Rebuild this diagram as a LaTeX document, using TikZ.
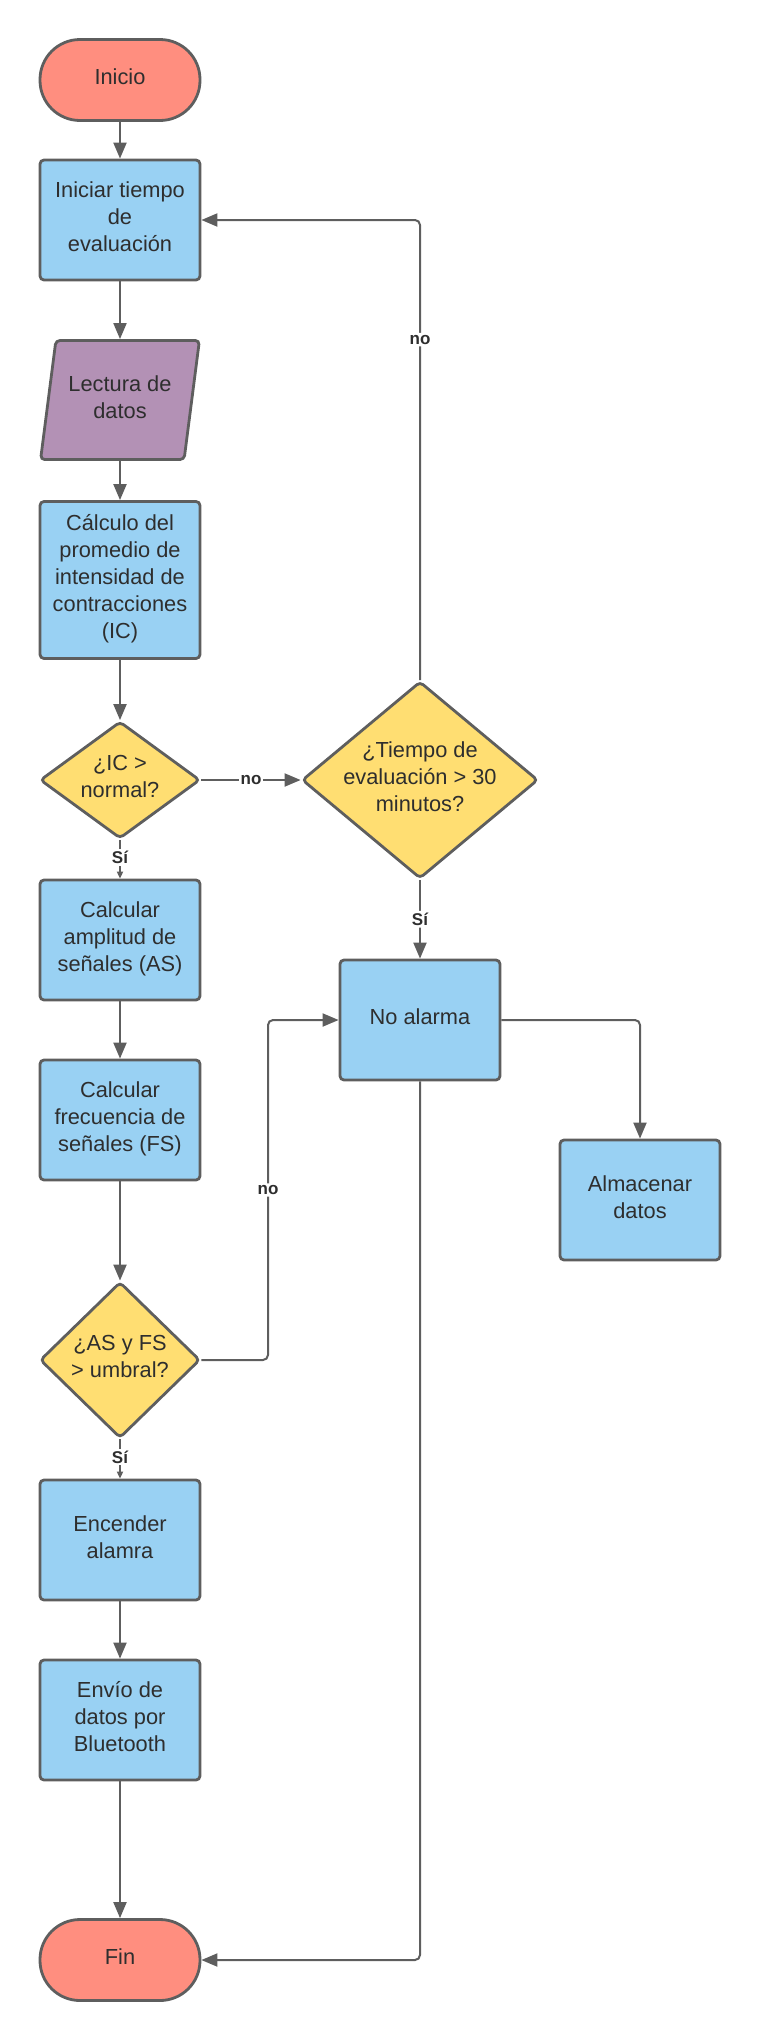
\documentclass[tikz,border=0pt]{standalone}
\usepackage{fontspec}
\setmainfont{Liberation Sans}
\usetikzlibrary{arrows.meta,shapes.geometric}
\definecolor{edge}{HTML}{5E5E5E}
\definecolor{ink}{HTML}{2E2E2E}
\definecolor{salmon}{HTML}{FF8E7F}
\definecolor{skyblue}{HTML}{99D1F3}
\definecolor{sun}{HTML}{FFDE72}
\definecolor{mauve}{HTML}{B391B5}
\begin{document}
\begin{tikzpicture}[x=1pt,y=-1pt,
  base/.style={draw=edge, line width=2.8pt, text=ink, align=center, inner sep=0pt,
    font=\fontsize{21.8}{27}\selectfont,
    % a fixed depth under the last line lifts the text block slightly
    execute at end node={\vrule width 0pt height 0pt depth 6.5pt}},
  terminal/.style={base, fill=salmon, rectangle, rounded corners=40pt,
    minimum width=160pt, minimum height=81pt},
  process/.style={base, fill=skyblue, rectangle, rounded corners=4pt,
    minimum width=160pt, minimum height=120pt},
  inout/.style={base, fill=mauve, trapezium, trapezium left angle=76,
    trapezium right angle=104, trapezium stretches=true, rounded corners=4pt,
    minimum width=159pt, minimum height=119pt},
  decision/.style={base, fill=sun, diamond, rounded corners=4pt, inner sep=-14pt},
  conn/.style={draw=edge, line width=2pt, rounded corners=5pt,
    -{Triangle[length=16pt,width=13pt]}},
  shortconn/.style={draw=edge, line width=2pt, -{Triangle[length=7pt,width=6pt]}},
  lbl/.style={fill=white, text=ink, inner xsep=1.5pt, inner ysep=2pt,
    font=\bfseries\fontsize{17}{20}\selectfont}
]
\useasboundingbox (0,0) rectangle (760,2040);

% main column
\node[terminal] (inicio) at (120,80) {Inicio};
\node[process] (iniciar) at (120,220) {Iniciar tiempo\\de\\evaluación};
\node[inout] (lectura) at (120,400) {Lectura de\\datos};
\node[process, minimum height=157pt] (calculo) at (120,580)
  {Cálculo del\\promedio de\\intensidad de\\contracciones\\(IC)};
\node[decision, minimum width=160pt, minimum height=117pt] (ic) at (120,780)
  {¿IC >\\normal?};
\node[process] (amplitud) at (120,940) {Calcular\\amplitud de\\señales (AS)};
\node[process] (frecuencia) at (120,1120) {Calcular\\frecuencia de\\señales (FS)};
\node[decision, minimum width=160pt, minimum height=156pt] (umbral) at (120,1360)
  {¿AS y FS\\> umbral?};
\node[process] (encender) at (120,1540) {Encender\\alamra};
\node[process] (envio) at (120,1720) {Envío de\\datos por\\Bluetooth};
\node[terminal] (fin) at (120,1960) {Fin};

% right-hand branch
\node[decision, minimum width=236pt, minimum height=197pt] (tiempo) at (420,780)
  {¿Tiempo de\\evaluación > 30\\minutos?};
\node[process] (noalarma) at (420,1020) {No alarma};
\node[process] (almacenar) at (640,1200) {Almacenar\\datos};

\coordinate (bypass) at (268,0);

% straight flow
\draw[conn] (inicio) -- (iniciar);
\draw[conn] (iniciar) -- (lectura);
\draw[conn] (lectura.south -| calculo.north) -- (calculo);
\draw[conn] (calculo) -- (ic);
\draw[shortconn] (ic) -- node[lbl, pos=0.45] {Sí} (amplitud);
\draw[conn] (amplitud) -- (frecuencia);
\draw[conn] (frecuencia) -- (umbral);
\draw[shortconn] (umbral) -- node[lbl, pos=0.45] {Sí} (encender);
\draw[conn] (encender) -- (envio);
\draw[conn] (envio) -- (fin);

% branches
\draw[conn] (ic) -- node[lbl] {no} (tiempo);
\draw[conn] (tiempo.north) -- node[lbl, pos=0.74] {no} (tiempo.north |- iniciar.east) -- (iniciar.east);
\draw[conn] (tiempo) -- node[lbl] {Sí} (noalarma);
\draw[conn] (umbral.east) -- (umbral.east -| bypass) -- node[lbl] {no} (bypass |- noalarma.west) -- (noalarma.west);
\draw[conn] (noalarma.east) -| (almacenar.north);
\draw[conn] (noalarma.south) |- (fin.east);
\end{tikzpicture}
\end{document}
